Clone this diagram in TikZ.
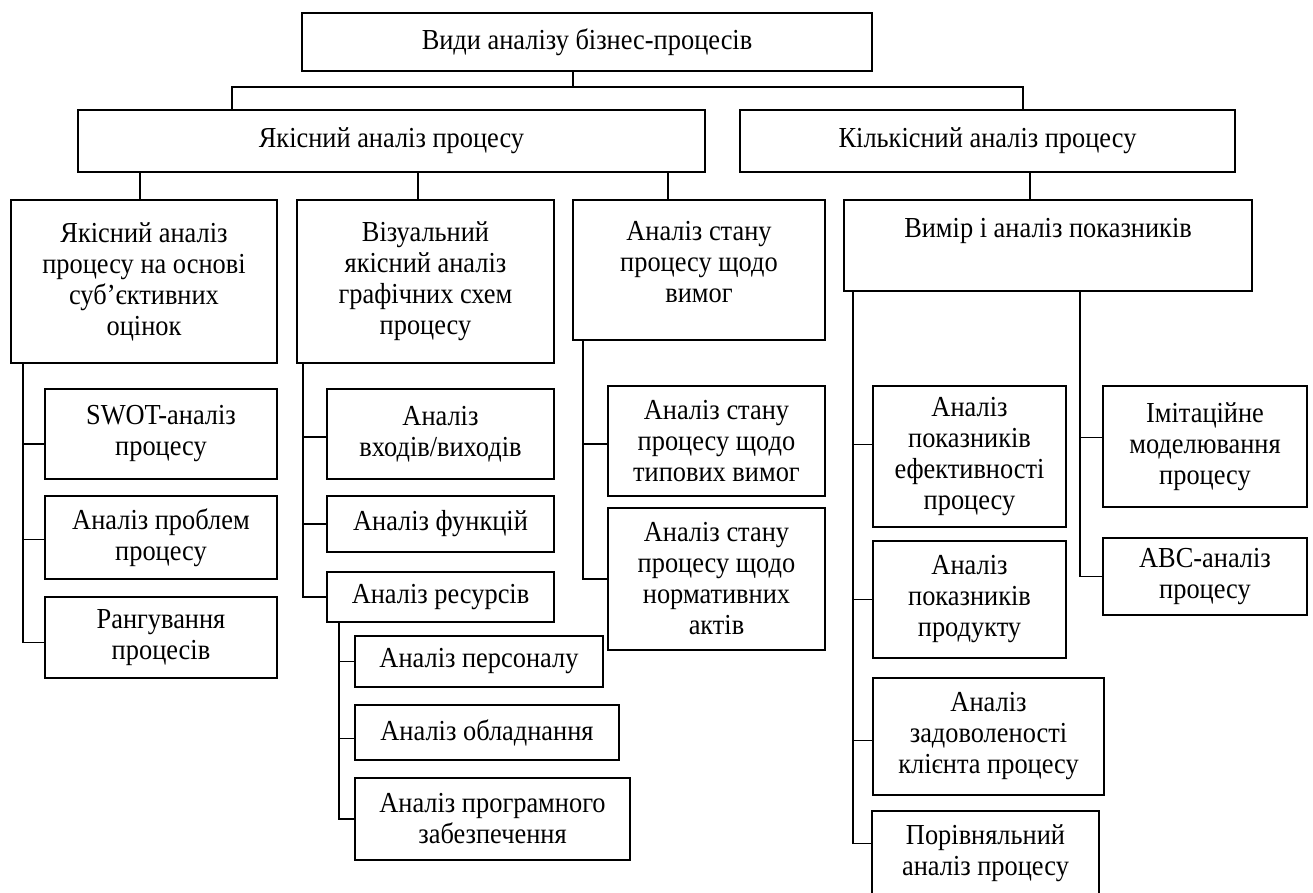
\documentclass[tikz,border=0pt]{standalone}
\usepackage{fontspec}
\setmainfont[FakeStretch=0.91]{Liberation Serif}
\begin{document}
\begin{tikzpicture}[
	x=1pt, y=-1pt,
	rect/.style={
		draw,
		rectangle,
		line width=2.1pt,
		align=center,
		inner sep=0pt,
	},
	font=\fontsize{29}{31}\selectfont,
	line width=1.7pt,
]
\useasboundingbox (0,0) rectangle (1313,892);

% root and the two main kinds
\node [rect, minimum width=570pt, minimum height=58pt] (types) at (587,42) {Види аналізу бізнес-процесів};
\node [rect, minimum width=627pt, minimum height=62pt] (qual) at (391.5,141) {Якісний аналіз процесу};
\node [rect, minimum width=495pt, minimum height=62pt] (quant) at (987.5,141) {Кількісний аналіз процесу};

% third row
\node [rect, minimum width=266pt, minimum height=163pt] (subj) at (144,281.5) {Якісний аналіз\\процесу на основі\\суб’єктивних\\оцінок};
\node [rect, minimum width=257pt, minimum height=163pt] (vis) at (425.5,281.5) {Візуальний\\якісний аналіз\\графічних схем\\процесу};
\node [rect, minimum width=252pt, minimum height=140pt, text depth=16pt] (req) at (699,270) {Аналіз стану\\процесу щодо\\вимог};
\node [rect, minimum width=408pt, minimum height=91pt, text height=21pt, text depth=37pt] (meas) at (1048,245.5) {Вимір і аналіз показників};

% subjective
\node [rect, minimum width=232pt, minimum height=90pt] (swot) at (161,434) {SWOT-аналіз\\процесу};
\node [rect, minimum width=232pt, minimum height=83pt] (probl) at (161,537.5) {Аналіз проблем\\процесу};
\node [rect, minimum width=232pt, minimum height=81pt] (rank) at (161,637.5) {Рангування\\процесів};

% visual
\node [rect, minimum width=227pt, minimum height=90pt] (io) at (440.5,434) {Аналіз\\входів/виходів};
\node [rect, minimum width=227pt, minimum height=56pt] (func) at (440.5,524) {Аналіз функцій};
\node [rect, minimum width=227pt, minimum height=50pt] (res) at (440.5,597) {Аналіз ресурсів};
\node [rect, minimum width=248pt, minimum height=51pt] (pers) at (479,661.5) {Аналіз персоналу};
\node [rect, minimum width=264pt, minimum height=55pt] (equip) at (487,732.5) {Аналіз обладнання};
\node [rect, minimum width=275pt, minimum height=82pt] (soft) at (492.5,819) {Аналіз програмного\\забезпечення};

% requirements
\node [rect, minimum width=217pt, minimum height=110pt] (typ) at (716.5,441) {Аналіз стану\\процесу щодо\\типових вимог};
\node [rect, minimum width=217pt, minimum height=142pt] (norm) at (716.5,579) {Аналіз стану\\процесу щодо\\нормативних\\актів};

% measures
\node [rect, minimum width=193pt, minimum height=141pt] (eff) at (969.5,456.5) {Аналіз\\показників\\ефективності\\процесу};
\node [rect, minimum width=193pt, minimum height=117pt] (prod) at (969.5,599.5) {Аналіз\\показників\\продукту};
\node [rect, minimum width=231pt, minimum height=117pt] (sat) at (988.5,736.5) {Аналіз\\задоволеності\\клієнта процесу};
\node [rect, minimum width=227pt, minimum height=85pt] (cmp) at (985.5,853.5) {Порівняльний\\аналіз процесу};
\node [rect, minimum width=204pt, minimum height=121pt] (imit) at (1205,446.5) {Імітаційне\\моделювання\\процесу};
\node [rect, minimum width=204pt, minimum height=77pt] (abc) at (1205,576.5) {ABC-аналіз\\процесу};

% tree lines
\draw ([xshift=-14pt]types.south) -- ++(0,15) -| ([xshift=-159.5pt]qual.north);
\draw ([xshift=-14pt]types.south) -- ++(0,15) -| ([xshift=35.5pt]quant.north);
\draw ([xshift=-251.5pt]qual.south) -- ([xshift=-4pt]subj.north);
\draw ([xshift=26.5pt]qual.south) -- ([xshift=-7.5pt]vis.north);
\draw ([xshift=276.5pt]qual.south) -- ([xshift=-31pt]req.north);
\draw ([xshift=42.5pt]quant.south) -- ([xshift=-18pt]meas.north);

\draw ([xshift=-121pt]subj.south) |- ([yshift=-10pt]swot.west);
\draw ([xshift=-121pt]subj.south) |- ([yshift=-2pt]probl.west);
\draw ([xshift=-121pt]subj.south) |- ([yshift=-5pt]rank.west);
\draw ([xshift=-122.5pt]vis.south) |- ([yshift=-3pt]io.west);
\draw ([xshift=-122.5pt]vis.south) |- (func.west);
\draw ([xshift=-122.5pt]vis.south) |- (res.west);
\draw ([xshift=-101.5pt]res.south) |- (pers.west);
\draw ([xshift=-101.5pt]res.south) |- ([yshift=-6pt]equip.west);
\draw ([xshift=-101.5pt]res.south) |- (soft.west);
\draw ([xshift=-116pt]req.south) |- ([yshift=-3pt]typ.west);
\draw ([xshift=-116pt]req.south) |- (norm.west);
\draw ([xshift=-195pt]meas.south) |- ([yshift=12pt]eff.west);
\draw ([xshift=-195pt]meas.south) |- (prod.west);
\draw ([xshift=-195pt]meas.south) |- ([yshift=-4pt]sat.west);
\draw ([xshift=-195pt]meas.south) |- ([yshift=10pt]cmp.west);
\draw ([xshift=32pt]meas.south) |- ([yshift=9pt]imit.west);
\draw ([xshift=32pt]meas.south) |- (abc.west);
\end{tikzpicture}
\end{document}
